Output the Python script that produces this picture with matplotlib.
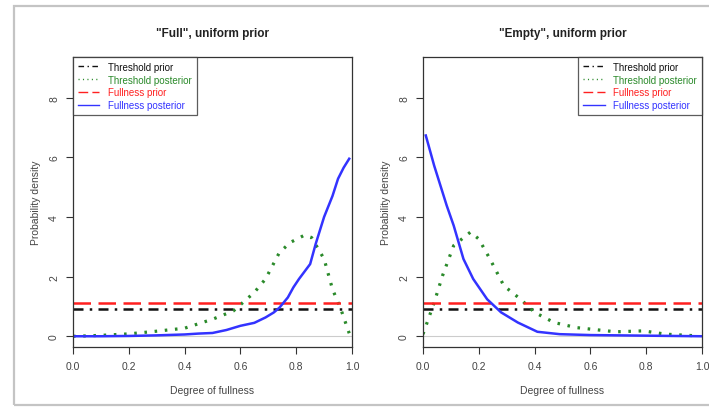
import matplotlib
matplotlib.use('Agg')
import matplotlib.pyplot as plt
from matplotlib.patches import Rectangle

plt.rcParams['font.family'] = ['Liberation Sans', 'DejaVu Sans']

# --- data ---
titles = ['"Full", uniform prior', '"Empty", uniform prior']
legend_labels = ['Threshold prior', 'Threshold posterior', 'Fullness prior', 'Fullness posterior']
threshold_prior = 0.9
fullness_prior = 1.1

full_thr_x = [0, 0.04, 0.1, 0.2, 0.3, 0.4, 0.5, 0.575, 0.65, 0.69, 0.74, 0.78, 0.83, 0.855, 0.9, 0.93, 0.96, 0.99]
full_thr_y = [0, 0.01, 0.03, 0.08, 0.17, 0.27, 0.57, 0.85, 1.47, 1.92, 2.81, 3.15, 3.39, 3.31, 2.59, 1.58, 0.91, 0.1]
full_post_x = [0, 0.1, 0.2, 0.3, 0.4, 0.45, 0.5, 0.55, 0.6, 0.65, 0.69, 0.72, 0.74, 0.77, 0.79, 0.81,
               0.85, 0.87, 0.90, 0.93, 0.95, 0.97, 0.99]
full_post_y = [0, 0, 0.01, 0.03, 0.06, 0.09, 0.11, 0.21, 0.35, 0.45, 0.63, 0.8, 0.96, 1.3, 1.64, 1.92,
               2.42, 3.1, 4.0, 4.7, 5.28, 5.65, 5.95]

empty_thr_x = [0, 0.04, 0.07, 0.11, 0.17, 0.2, 0.24, 0.29, 0.35, 0.4, 0.47, 0.55, 0.6, 0.69, 0.79, 0.87, 0.99]
empty_thr_y = [0.07, 1.13, 2.03, 3.04, 3.49, 3.26, 2.59, 1.69, 1.24, 0.8, 0.46, 0.29, 0.24, 0.15, 0.18, 0.07, 0.01]
empty_post_x = [0.01, 0.04, 0.085, 0.11, 0.145, 0.18, 0.23, 0.28, 0.34, 0.41, 0.49, 0.6, 0.7, 0.8, 0.9, 1.0]
empty_post_y = [6.73, 5.72, 4.38, 3.71, 2.59, 1.92, 1.24, 0.8, 0.46, 0.15, 0.07, 0.04, 0.03, 0.02, 0.01, 0.0]

x_ticks = [0.0, 0.2, 0.4, 0.6, 0.8, 1.0]
y_ticks = [0, 2, 4, 6, 8]

panels = [
    (titles[0], full_thr_x, full_thr_y, full_post_x, full_post_y, 'upper left'),
    (titles[1], empty_thr_x, empty_thr_y, empty_post_x, empty_post_y, 'upper right'),
]

colors = {'thr_prior': '#111111', 'thr_post': '#2a8a2a', 'full_prior': '#ff2020', 'full_post': '#3333ff'}

fig = plt.figure(figsize=(7.09, 4.10), dpi=100)
fig.patch.set_facecolor('white')

# screenshot frame
fig.add_artist(Rectangle((14 / 709, 4 / 410), 1.0, 1 - 11 / 410, transform=fig.transFigure,
                         fill=False, edgecolor='#c4c4c4', lw=1.6))

axes_pos = [[73 / 709, 62 / 410, 279 / 709, 290 / 410],
            [423 / 709, 62 / 410, 279 / 709, 290 / 410]]

for pos, (title, tx, ty, px, py, loc) in zip(axes_pos, panels):
    ax = fig.add_axes(pos)
    ax.axhline(0, color='#cccccc', lw=0.8, zorder=1)
    ax.axhline(threshold_prior, color=colors['thr_prior'], lw=1.8, dashes=(4, 2.5, 1, 2.5),
               label=legend_labels[0])
    ax.plot(tx, ty, color=colors['thr_post'], lw=2.3, dashes=(0.8, 2.4), label=legend_labels[1])
    ax.axhline(fullness_prior, color=colors['full_prior'], lw=1.8, dashes=(7, 3), label=legend_labels[2])
    ax.plot(px, py, color=colors['full_post'], lw=1.8, label=legend_labels[3])

    ax.set_xlim(0, 1)
    ax.set_ylim(-0.36, 9.36)
    ax.set_xticks(x_ticks)
    ax.set_xticklabels([f'{v:.1f}' for v in x_ticks])
    ax.set_yticks(y_ticks)
    ax.set_yticklabels([str(v) for v in y_ticks], rotation=90, va='center')
    ax.tick_params(direction='out', length=5, width=0.8, labelsize=7.5, labelcolor='#444444',
                   color='#333333', pad=5)
    for s in ax.spines.values():
        s.set_linewidth(0.9)
        s.set_color('#333333')

    ax.set_xlabel('Degree of fullness', fontsize=7.5, color='#444444', labelpad=10)
    ax.set_ylabel('Probability density', fontsize=7.5, color='#444444', labelpad=6)
    ax.set_title(title, fontsize=8.5, fontweight='bold', color='#222222', pad=15)

    leg = ax.legend(loc=loc, fontsize=7, frameon=True, fancybox=False, borderaxespad=0,
                    handlelength=2.2, handletextpad=0.9, labelspacing=0.28, borderpad=0.5)
    leg.get_frame().set_edgecolor('#333333')
    leg.get_frame().set_linewidth(0.9)
    leg_colors = [colors['thr_prior'], colors['thr_post'], colors['full_prior'], colors['full_post']]
    for text, c in zip(leg.get_texts(), leg_colors):
        text.set_color(c)
    for h in leg.get_lines():
        h.set_linewidth(1.0)

fig.savefig('out.png', dpi=100, facecolor='white')
